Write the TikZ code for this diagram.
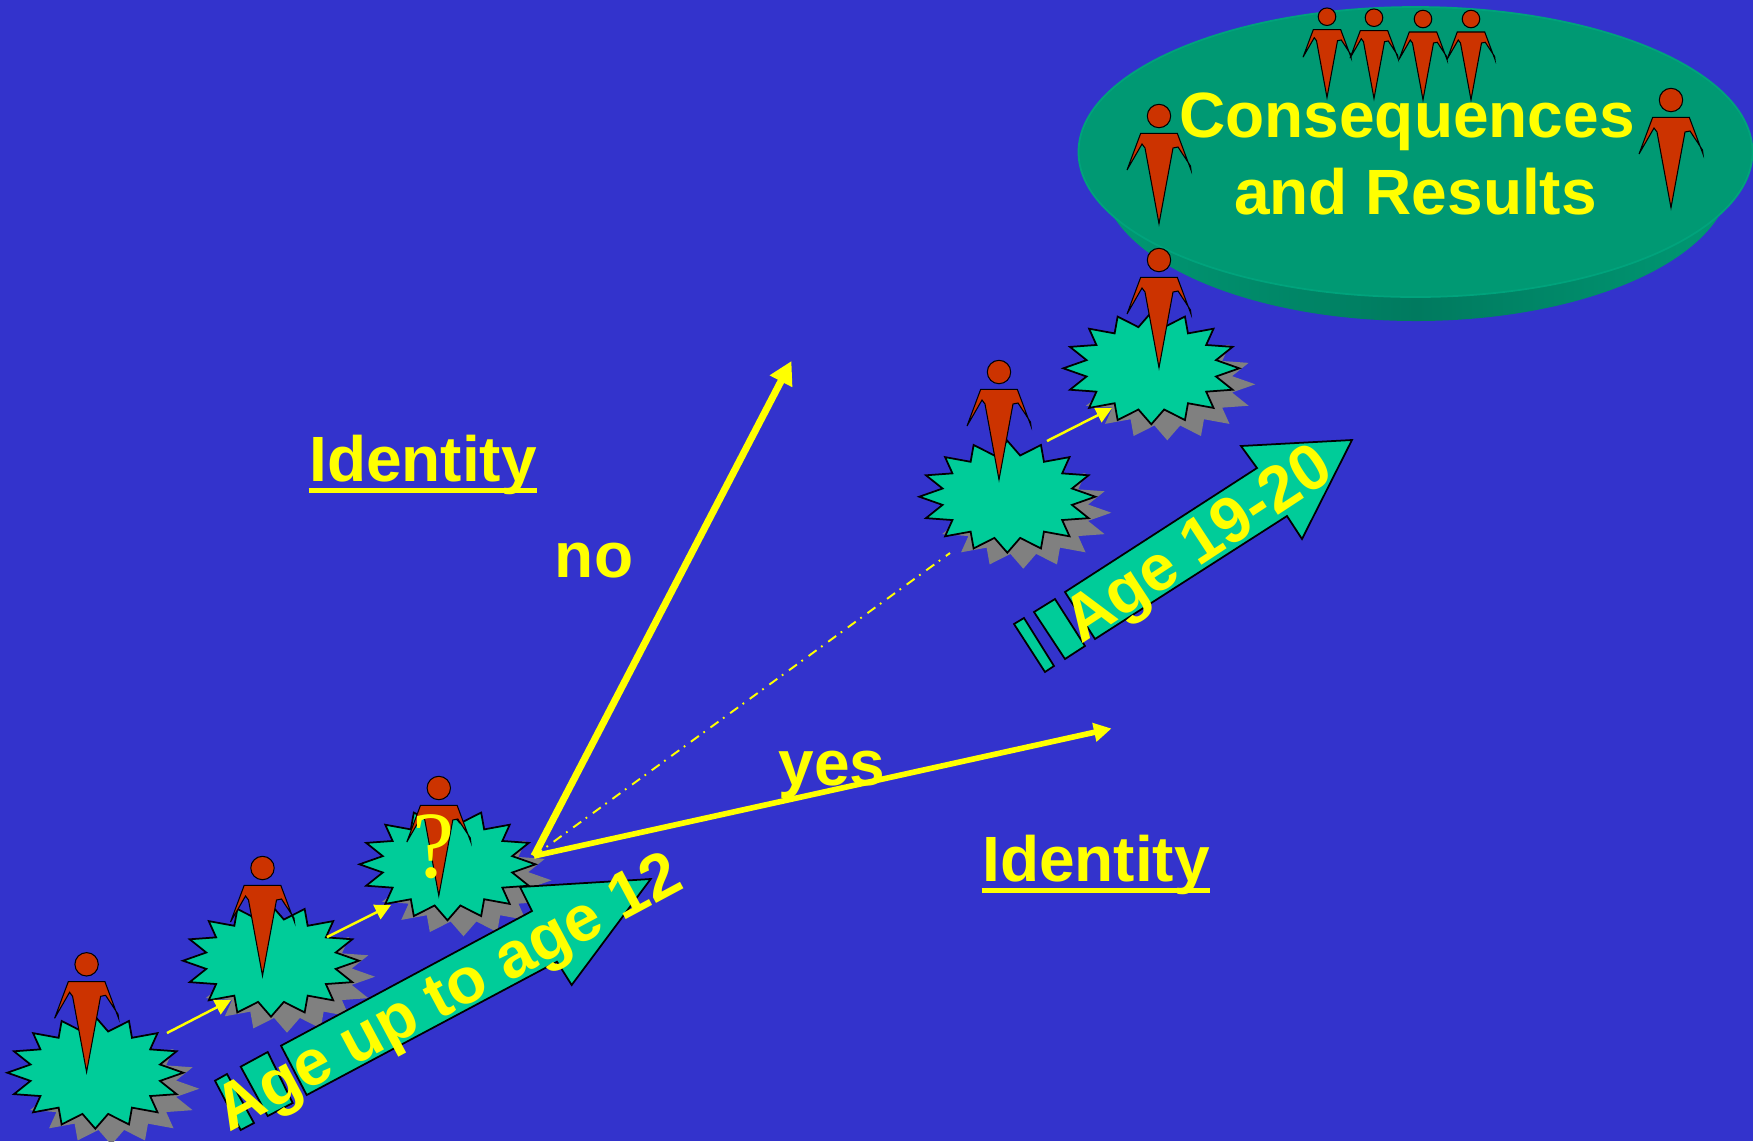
\documentclass[tikz,border=0pt]{standalone}
\usepackage{fontspec}
\setmainfont{Liberation Sans}
\newfontfamily\serifmark{Liberation Serif}
\usetikzlibrary{arrows.meta}
\definecolor{slideblue}{HTML}{3333CC}
\definecolor{burstgreen}{HTML}{00CC99}
\definecolor{discgreen}{HTML}{009973}
\definecolor{discedge}{HTML}{00A37C}
\definecolor{discdark}{HTML}{007A5F}
\definecolor{personred}{HTML}{CC3300}
\definecolor{shadowgrey}{HTML}{808080}
\definecolor{labelyellow}{HTML}{FFFF00}
\newcommand{\burstoutline}{(88,0) \foreach \a in {0,22.5,...,337.5} { -- ({66*cos(\a+11.25)},{42*sin(\a+11.25)}) -- ({88*cos(\a+22.5)},{56*sin(\a+22.5)}) } -- cycle}
\tikzset{
	bigtext/.style={text=labelyellow, font=\fontsize{18.2pt}{22pt}\selectfont\bfseries, inner sep=0pt, anchor=base},
	agetext/.style={bigtext, font=\fontsize{18.4pt}{22pt}\selectfont\bfseries},
	agearrow/.style={draw=black, fill=burstgreen, line width=0.5pt, line join=miter},
	noarrow/.style={labelyellow, line width=2pt, -{Triangle[length=6.5pt,width=6.8pt]}},
	yesarrow/.style={labelyellow, line width=1.6pt, -{Triangle[length=5pt,width=5.2pt]}},
	smallarrow/.style={labelyellow, line width=0.7pt, -{Triangle[length=4.5pt,width=4.5pt]}},
	underscore/.style={labelyellow, line width=1.6pt},
	burst/.pic={\draw[fill=burstgreen, draw=black, line width=0.5pt] \burstoutline;},
	burstshadow/.pic={\fill[shadowgrey] \burstoutline;},
	person/.pic={
		\filldraw[fill=personred, draw=black, line width=0.3pt] (0,0) circle [radius=11.7];
		\filldraw[fill=personred, draw=black, line width=0.3pt] (-18.3,17.3) -- (18.3,17.3) -- (32,54) -- (31.5,50) -- (19,31) -- (14,32) -- (0,107.7) -- (-14,32) -- (-17,28) -- (-32,54) -- cycle;
	}
}
\begin{document}
\begin{tikzpicture}[x=0.01cm, y=-0.01cm]
	\useasboundingbox (0,0) rectangle (1753,1141);
	\clip (0,0) rectangle (1753,1141);
	\fill[slideblue] (0,0) rectangle (1753,1141);

	\shade[left color=discgreen, right color=discgreen, middle color=discdark] (1416,176) ellipse [x radius=315, y radius=145];
	\filldraw[fill=discgreen, draw=discedge, line width=0.5pt] (1415.5,152) ellipse [x radius=337, y radius=145];

	\foreach \x/\y in {95.3/1072.7, 271/960.7, 447.5/864.3, 1007.3/496.7, 1151.3/368.3}
		\pic at (\x+16,\y+16) {burstshadow};

	\draw[agearrow] (281,1045.7) -- (532,911) -- (520,887) -- (650.7,879) -- (571.7,985) -- (557,961.7) -- (306.7,1095) -- cycle;
	\draw[agearrow] (240.7,1066.7) -- (267.7,1052) -- (292.7,1103) -- (267.7,1116) -- cycle;
	\draw[agearrow] (215,1080.7) -- (227,1074) -- (254,1123) -- (240.7,1130) -- cycle;

	\draw[agearrow] (1065,592) -- (1257,468) -- (1241,446) -- (1352,440) -- (1302,539) -- (1287,516) -- (1095,639) -- cycle;
	\draw[agearrow] (1034,612) -- (1055,599) -- (1085,646) -- (1065,659) -- cycle;
	\draw[agearrow] (1014,624) -- (1024,618) -- (1054,666) -- (1045,672) -- cycle;

	\foreach \x/\y in {95.3/1072.7, 271/960.7, 447.5/864.3, 1007.3/496.7, 1151.3/368.3}
		\pic at (\x,\y) {burst};

	\pic at (86.6,964.3) {person};
	\pic at (262.5,868) {person};
	\pic at (438.8,788) {person};
	\pic at (999,372) {person};
	\pic at (1159,260) {person};
	\pic at (1159,116) {person};
	\pic at (1671,100) {person};
	\foreach \x/\y in {1327/16.7, 1374/17.7, 1423/19, 1471/19}
		\pic[scale=0.75] at (\x,\y) {person};

	\coordinate (apex) at (534,856);
	\coordinate (noEnd) at (791.5,361);
	\coordinate (yesEnd) at (1111.5,728.5);
	\coordinate (hiddenEnd) at (950,553);
	\coordinate (stepAstart) at (167,1033);
	\coordinate (stepAend) at (231,1000);
	\coordinate (stepBstart) at (327,937);
	\coordinate (stepBend) at (391,905);
	\coordinate (stepCstart) at (1047,441);
	\coordinate (stepCend) at (1112,408);

	\draw[labelyellow, line width=0.55pt, dash pattern=on 2.8pt off 1.6pt on 0.5pt off 2pt] (apex) -- (hiddenEnd);
	\draw[noarrow] (apex) -- (noEnd);
	\draw[yesarrow] (apex) -- (yesEnd);
	\draw[smallarrow] (stepAstart) -- (stepAend);
	\draw[smallarrow] (stepBstart) -- (stepBend);
	\draw[smallarrow] (stepCstart) -- (stepCend);

	\node[bigtext] (identityA) at (423,481) {Identity};
	\node[bigtext] (identityB) at (1096,881) {Identity};
	\draw[underscore] ([yshift=-2.7pt]identityA.base west) -- ([yshift=-2.7pt]identityA.base east);
	\draw[underscore] ([yshift=-2.7pt]identityB.base west) -- ([yshift=-2.7pt]identityB.base east);
	\node[bigtext] (no) at (594,577) {no};
	\node[bigtext] (yes) at (832,785) {yes};
	\node[bigtext] (consequences) at (1407,137) {Consequences};
	\node[bigtext] (results) at (1415.5,214) {and Results};
	\node[agetext, rotate=28.2] (youngAge) at (458,1010) {Age up to age 12};
	\node[agetext, rotate=33.3] (olderAge) at (1209,561) {Age 19-20};
	\node[text=labelyellow, inner sep=0pt, font=\fontsize{27pt}{30pt}\serifmark] (doubt) at (434,847) {?};
\end{tikzpicture}
\end{document}
